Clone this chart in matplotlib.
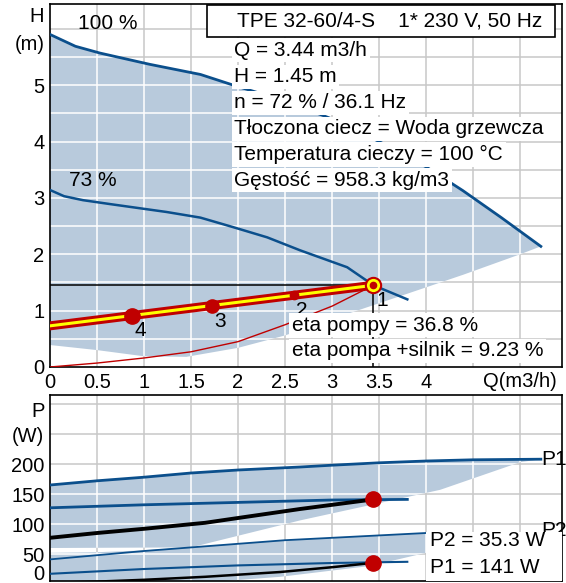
import numpy as np
import matplotlib
matplotlib.use("Agg")
import matplotlib.pyplot as plt
from matplotlib.patches import Polygon, Rectangle

plt.rcParams['font.family'] = ['Liberation Sans', 'DejaVu Sans']

# ---- upper chart: H(Q) ----
q_max = [0, 0.27, 0.53, 1.06, 1.6, 1.95, 2.5, 3.0, 3.5, 4.0, 4.39, 4.8, 5.22]
h_max = [5.9, 5.69, 5.57, 5.37, 5.19, 5.0, 4.72, 4.4, 4.0, 3.55, 3.13, 2.65, 2.14]
q_min = [0, 0.5, 1.0, 1.45, 2.0, 2.5, 3.0, 3.8, 4.4, 5.0]
h_min = [0.39, 0.30, 0.19, 0.18, 0.34, 0.56, 0.85, 1.3, 1.64, 2.0]
q_73 = [0, 0.15, 0.35, 0.64, 1.24, 1.6, 1.95, 2.31, 2.66, 3.16, 3.44, 3.8]
h_73 = [3.14, 3.03, 2.96, 2.89, 2.75, 2.65, 2.48, 2.30, 2.07, 1.77, 1.45, 1.2]
q_ctrl = [0, 3.44]
h_ctrl = [0.73, 1.45]
q_eta = [0, 0.5, 1.0, 1.5, 2.0, 2.5, 3.0, 3.44]
h_eta = [0, 0.07, 0.16, 0.27, 0.45, 0.75, 1.08, 1.45]
q_pts = [3.44, 2.59, 1.72, 0.87]
h_pts = [1.45, 1.27, 1.08, 0.91]
pt_labels = ['1', '2', '3', '4']
pt_sizes = [0, 6, 9.5, 11]
q_op, h_op = 3.44, 1.45

# ---- lower chart: P(Q) ----
q_p1_max = [0, 0.5, 1.0, 1.5, 2.0, 2.66, 3.0, 3.5, 4.0, 4.5, 5.22]
p1_max = [165, 172, 178, 185, 190, 195, 198, 202, 205, 207, 208]
q_p1_low = [0, 1.5, 2.66, 4.15, 5.0, 5.22]
p1_low = [60, 61, 106, 157, 203, 208]
q_p1_73 = [0, 1, 2, 3, 3.8]
p1_73 = [127, 132, 136, 140, 141]
q_p1_op = [0, 0.5, 1.0, 1.65, 2.0, 2.66, 3.44]
p1_op = [77, 85, 92, 102, 110, 125, 141]
q_p2_max = [0, 0.5, 1.0, 1.5, 2.0, 2.5, 3.0, 3.5, 4.0]
p2_max = [41, 48, 55, 61, 67, 73, 77, 81, 85]
p2_top = [52, 53, 56, 61, 67, 73, 77, 81, 85]
q_p2_low = [0, 1.0, 2.45, 3.4, 4.0]
p2_low = [-15, -5, 12, 30, 52]
q_p2_73 = [0, 1, 2, 3, 3.8]
p2_73 = [17, 25, 31, 35, 37]
q_p2_op = [0, 0.5, 1.0, 1.65, 2.45, 3.0, 3.44]
p2_op = [2, 4, 7, 12, 20, 28, 35.3]
p1_val, p2_val = 141, 35.3

info = ["Q = 3.44 m3/h", "H = 1.45 m", "n = 72 % / 36.1 Hz",
        "Tłoczona ciecz = Woda grzewcza", "Temperatura cieczy = 100 °C",
        "Gęstość = 958.3 kg/m3"]
title = "TPE 32-60/4-S    1* 230 V, 50 Hz"

blue = '#0b4f8c'
shade = '#b8cadc'
red = '#c00000'
grid = '#c8c8c8'
fs = 15
tfs = 14.5

fig = plt.figure(figsize=(5.66, 5.83), dpi=100)
ax = fig.add_axes([50/566, 1-367/583, 512/566, 363/583])
bx = fig.add_axes([50/566, 1-581/583, 512/566, 186/583])


def grids(a, xs, ys, patches):
    for x in xs:
        a.axvline(x, color=grid, lw=1.1, zorder=0.5)
    for y in ys:
        a.axhline(y, color=grid, lw=1.1, zorder=0.5)
    for p in patches:
        for x in xs:
            l = a.axvline(x, color='white', lw=1.1, zorder=1.5)
            l.set_clip_path(p)
        for y in ys:
            l = a.axhline(y, color='white', lw=1.1, zorder=1.5)
            l.set_clip_path(p)


box = dict(boxstyle='square,pad=0.12', fc='white', ec='none')
xg = np.arange(0.5, 5.01, 0.5)

# upper
poly = Polygon(np.column_stack([q_max + q_min[::-1], h_max + h_min[::-1]]),
               closed=True, facecolor=shade, edgecolor='none', zorder=1)
ax.add_patch(poly)
grids(ax, xg, np.arange(0.5, 6.01, 0.5), [poly])
ax.plot(q_max, h_max, color=blue, lw=2, zorder=3)
ax.plot(q_73, h_73, color=blue, lw=1.8, zorder=3)
ax.plot([0, q_op, q_op], [h_op, h_op, 0], color='black', lw=1.1, zorder=3)
ax.plot(q_eta, h_eta, color=red, lw=1, zorder=3)
ax.plot(q_ctrl, h_ctrl, color=red, lw=6.5, solid_capstyle='round', zorder=4)
ax.plot(q_ctrl, h_ctrl, color='yellow', lw=2.2, zorder=4)
for q, h, lab, s in zip(q_pts, h_pts, pt_labels, pt_sizes):
    if s:
        ax.plot(q, h, 'o', color=red, ms=s, zorder=5)
    ax.annotate(lab, (q, h), xytext=(6, -11), textcoords='offset points',
                ha='center', va='center', fontsize=fs, zorder=6)
ax.plot(q_op, h_op, 'o', ms=11, mfc='yellow', mec=red, mew=1.5, zorder=5)
ax.plot(q_op, h_op, 'o', ms=4.5, color=red, zorder=5)

ax.text(0.3, 6.1, "100 %", fontsize=fs, ha='left', va='center')
ax.text(0.2, 3.3, "73 %", fontsize=fs, ha='left', va='center')
ys = [5.62, 5.15, 4.69, 4.23, 3.77, 3.31]
for s, y in zip(info, ys):
    ax.text(1.96, y, s, fontsize=fs, ha='left', va='center', zorder=7, bbox=box)
ax.text(2.57, 0.74, "eta pompy = 36.8 %", fontsize=fs, ha='left', va='center',
        zorder=7, bbox=box)
ax.text(2.57, 0.29, "eta pompa +silnik = 9.23 %", fontsize=fs, ha='left', va='center',
        zorder=7, bbox=box)
ax.add_patch(Rectangle((157/512, 1-33/363), 348/512, 32/363, transform=ax.transAxes,
                       fc='white', ec='black', lw=1.2, zorder=8, clip_on=False))
ax.text(187/512, 1-17/363, title, transform=ax.transAxes, fontsize=fs,
        ha='left', va='center', zorder=9)

ax.set_xlim(0, 5.445)
ax.set_ylim(0, 6.44)
ax.set_xticks(np.arange(0, 4.01, 0.5))
ax.set_xticklabels(['0', '0.5', '1', '1.5', '2', '2.5', '3', '3.5', '4'])
ax.set_yticks([0, 1, 2, 3, 4, 5])
ax.tick_params(length=0, labelsize=tfs, pad=4)
ax.text(5.0, -0.25, "Q(m3/h)", fontsize=tfs, ha='center', va='center')
ax.text(-0.06, 6.22, "H", fontsize=tfs, ha='right', va='center')
ax.text(-0.06, 5.72, "(m)", fontsize=tfs, ha='right', va='center')
for sp in ax.spines.values():
    sp.set_linewidth(1.2)

# lower
poly1 = Polygon(np.column_stack([q_p1_max + q_p1_low[::-1], p1_max + p1_low[::-1]]),
                closed=True, facecolor=shade, edgecolor='none', zorder=1)
poly2 = Polygon(np.column_stack([q_p2_max + q_p2_low[::-1], p2_top + p2_low[::-1]]),
                closed=True, facecolor=shade, edgecolor='none', zorder=1)
bx.add_patch(poly1)
bx.add_patch(poly2)
grids(bx, xg, np.arange(50, 301, 50), [poly1, poly2])
bx.plot(q_p1_max, p1_max, color=blue, lw=2, zorder=3)
bx.plot(q_p1_73, p1_73, color=blue, lw=2, zorder=3)
bx.plot(q_p1_op, p1_op, color='black', lw=2.8, zorder=3)
bx.plot(q_p2_max, p2_max, color=blue, lw=1.3, zorder=3)
bx.plot(q_p2_73, p2_73, color=blue, lw=1.5, zorder=3)
bx.plot(q_p2_op, p2_op, color='black', lw=1.8, zorder=3)
bx.plot(q_op, p1_val, 'o', color=red, ms=11, zorder=5)
bx.plot(q_op, p2_val, 'o', color=red, ms=11, zorder=5)
bx.text(5.22, 208, "P1", fontsize=fs, ha='left', va='center', zorder=4)
bx.text(5.22, 90, "P2", fontsize=fs, ha='left', va='center', zorder=4)
bx.add_patch(Rectangle((4.0, 5), 1.445, 81, fc='white', ec='none', zorder=6))
bx.text(4.04, 73, "P2 = 35.3 W", fontsize=fs, ha='left', va='center', zorder=7)
bx.text(4.04, 28, "P1 = 141 W", fontsize=fs, ha='left', va='center', zorder=7)

bx.set_xlim(0, 5.445)
bx.set_ylim(5, 315)
bx.set_xticks([])
bx.set_yticks([200, 150, 100, 50])
bx.tick_params(length=0, labelsize=tfs, pad=4)
bx.text(-0.06, 287, "P", fontsize=tfs, ha='right', va='center')
bx.text(-0.06, 245, "(W)", fontsize=tfs, ha='right', va='center')
bx.text(-0.06, 16, "0", fontsize=tfs, ha='right', va='center')
for sp in bx.spines.values():
    sp.set_linewidth(1.2)

fig.savefig("out.png", dpi=100)
